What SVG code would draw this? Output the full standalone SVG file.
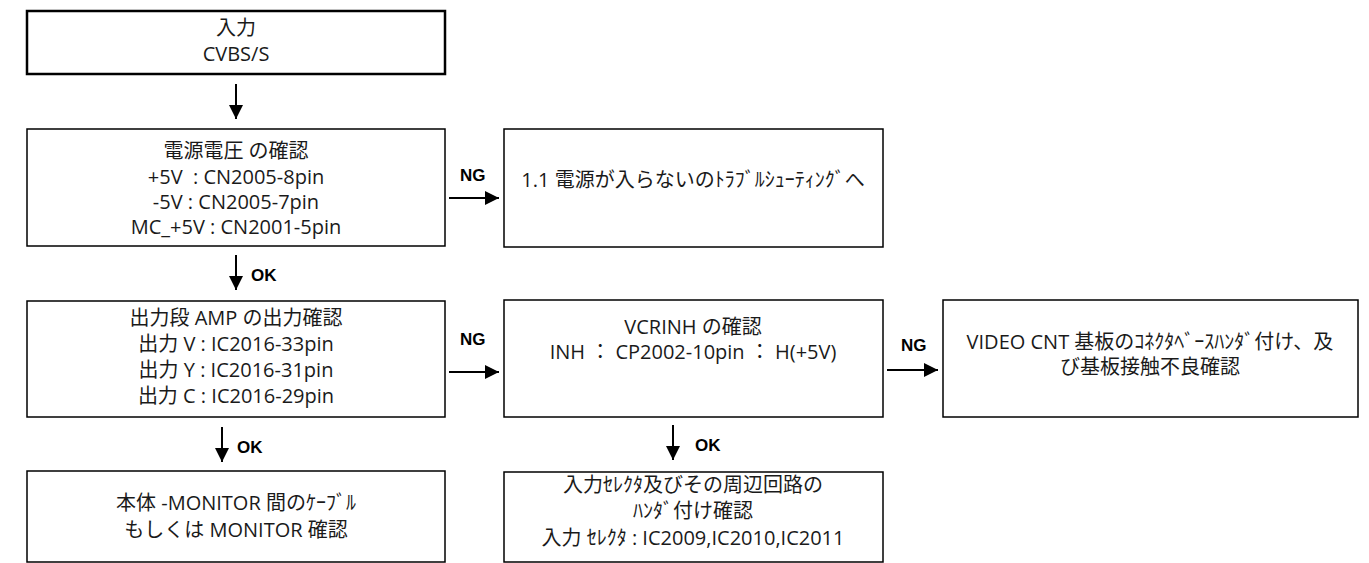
<svg xmlns="http://www.w3.org/2000/svg" width="1369" height="563" viewBox="0 0 1369 563">
<style>
.box{fill:#fff;stroke:#000;stroke-width:1.5}
.thick{stroke-width:2.5}
.t{font-family:"Open Sans","Noto Sans CJK JP",sans-serif;font-size:20px;fill:#1a1a1a;text-anchor:middle}
.lbl{font-family:"Liberation Sans",Arial,sans-serif;font-weight:bold;font-size:17px;fill:#000}
.conn{stroke:#000;stroke-width:2;fill:none}
</style>
<defs>
<marker id="ah" viewBox="0 0 10 10" refX="10" refY="5" markerWidth="7" markerHeight="7" markerUnits="strokeWidth" orient="auto">
<path d="M0,0 L10,5 L0,10 z" fill="#000"/>
</marker>
</defs>
<rect width="1369" height="563" fill="#fff"/>
<g id="n1">
<rect class="box thick" x="27" y="11" width="418" height="63"/>
<text class="t" x="236" y="35">入力</text>
<text class="t" x="236" y="61">CVBS/S</text>
</g>
<g id="n2">
<rect class="box" x="27" y="129" width="418" height="117"/>
<text class="t" x="236" y="158">電源電圧 の確認</text>
<text class="t" x="236" y="184">+5V&#160; : CN2005-8pin</text>
<text class="t" x="236" y="209">-5V : CN2005-7pin</text>
<text class="t" x="236" y="234">MC_+5V : CN2001-5pin</text>
</g>
<g id="n3">
<rect class="box" x="504" y="129" width="379" height="118"/>
<text class="t" x="693" y="187">1.1 電源が入らないのﾄﾗﾌﾞﾙｼｭｰﾃｨﾝｸﾞへ</text>
</g>
<g id="n4">
<rect class="box" x="27" y="301" width="418" height="116"/>
<text class="t" x="236" y="325">出力段 AMP の出力確認</text>
<text class="t" x="236" y="351">出力 V : IC2016-33pin</text>
<text class="t" x="236" y="377">出力 Y : IC2016-31pin</text>
<text class="t" x="236" y="403">出力 C : IC2016-29pin</text>
</g>
<g id="n5">
<rect class="box" x="504" y="300" width="379" height="117"/>
<text class="t" x="693" y="334">VCRINH の確認</text>
<text class="t" x="693" y="359">INH ： CP2002-10pin ： H(+5V)</text>
</g>
<g id="n6">
<rect class="box" x="943" y="300" width="415" height="117"/>
<text class="t" x="1150" y="349">VIDEO CNT 基板のｺﾈｸﾀﾍﾞｰｽﾊﾝﾀﾞ付け、及</text>
<text class="t" x="1150" y="374">び基板接触不良確認</text>
</g>
<g id="n7">
<rect class="box" x="27" y="471" width="418" height="91"/>
<text class="t" x="236" y="510">本体 -MONITOR 間のｹｰﾌﾞﾙ</text>
<text class="t" x="236" y="537">もしくは MONITOR 確認</text>
</g>
<g id="n8">
<rect class="box" x="504" y="472" width="379" height="90"/>
<text class="t" x="693" y="492">入力ｾﾚｸﾀ及びその周辺回路の</text>
<text class="t" x="693" y="518">ﾊﾝﾀﾞ付け確認</text>
<text class="t" x="693" y="545">入力 ｾﾚｸﾀ : IC2009,IC2010,IC2011</text>
</g>
<g id="connectors">
<line class="conn" x1="236" y1="84" x2="236" y2="119" marker-end="url(#ah)"/>
<line class="conn" x1="236" y1="255" x2="236" y2="290" marker-end="url(#ah)"/>
<text class="lbl" x="251" y="281">OK</text>
<line class="conn" x1="222" y1="427" x2="222" y2="462" marker-end="url(#ah)"/>
<text class="lbl" x="237" y="453">OK</text>
<line class="conn" x1="449" y1="198" x2="499" y2="198" marker-end="url(#ah)"/>
<text class="lbl" x="460" y="181">NG</text>
<line class="conn" x1="449" y1="372" x2="499" y2="372" marker-end="url(#ah)"/>
<text class="lbl" x="460" y="345">NG</text>
<line class="conn" x1="887" y1="370" x2="938" y2="370" marker-end="url(#ah)"/>
<text class="lbl" x="901" y="351">NG</text>
<line class="conn" x1="673" y1="425" x2="673" y2="460" marker-end="url(#ah)"/>
<text class="lbl" x="695" y="451">OK</text>
</g>
</svg>
